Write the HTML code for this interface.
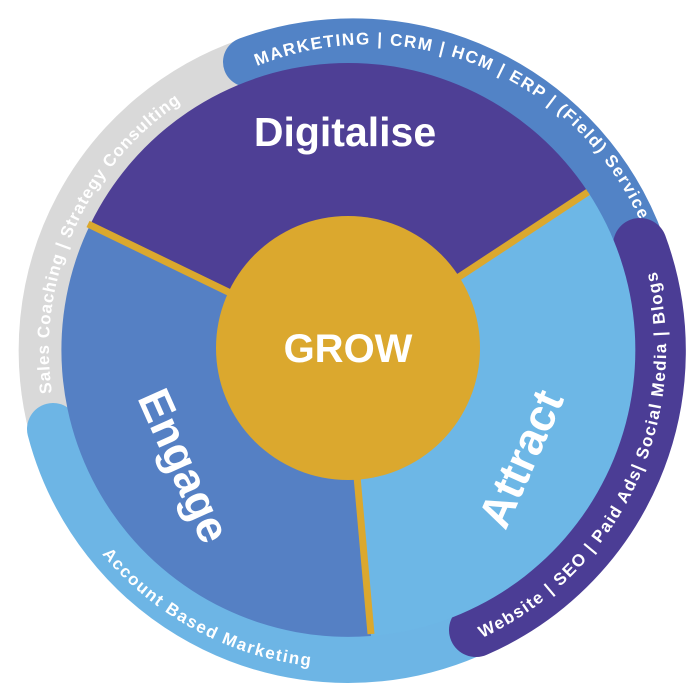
<!DOCTYPE html>
<html><head><meta charset="utf-8"><style>
html,body{margin:0;padding:0;background:#fff;width:697px;height:697px;overflow:hidden}
svg{display:block}
text{font-family:"Liberation Sans",sans-serif;font-weight:bold;fill:#fff}
</style></head><body>
<svg width="697" height="697" viewBox="0 0 697 697" xmlns="http://www.w3.org/2000/svg">
<defs>
<path id="pg" d="M 52 393 A 298 298 0 0 1 251 68"/>
<path id="pb" d="M 257 66 A 298 298 0 0 1 652 252"/>
<path id="pp" d="M 482 638 A 318 318 0 0 0 647 241"/>
<path id="pl" d="M 102 554 A 318 318 0 0 0 345 668"/>
</defs>
<path d="M 53 429 A 305 305 0 0 1 248 62" fill="none" stroke="#d9d9d9" stroke-width="48" stroke-linecap="round"/>
<path d="M 53 429 A 305 305 0 0 0 469 632" fill="none" stroke="#6db5e5" stroke-width="52" stroke-linecap="round"/>
<path d="M 248 62 A 305 305 0 0 1 640 245" fill="none" stroke="#5283c6" stroke-width="50" stroke-linecap="round"/>
<path d="M 640 245 A 305 305 0 0 1 476 630" fill="none" stroke="#4b3d95" stroke-width="54" stroke-linecap="round"/>
<circle cx="348" cy="350" r="284" fill="#fff"/>
<path d="M348 350 L 90 225 A 287 287 0 0 1 588 192 Z" fill="#4e3f95"/>
<path d="M348 350 L 588 192 A 287 287 0 0 1 371 636 Z" fill="#6db7e6"/>
<path d="M348 350 L 371 636 A 287 287 0 0 1 90 225 Z" fill="#5580c4"/>
<line x1="348" y1="350" x2="88" y2="224" stroke="#dba82e" stroke-width="7"/>
<line x1="348" y1="350" x2="588" y2="192" stroke="#dba82e" stroke-width="7"/>
<line x1="352" y1="420" x2="371" y2="634" stroke="#dba82e" stroke-width="7"/>
<circle cx="348" cy="348" r="132" fill="#dba82e"/>
<text x="348" y="362" font-size="40" text-anchor="middle">GROW</text>
<text x="345" y="146" font-size="41" text-anchor="middle">Digitalise</text>
<text transform="translate(170,472) rotate(66)" font-size="45" text-anchor="middle">Engage</text>
<text transform="translate(535,465) rotate(-66)" font-size="45" text-anchor="middle">Attract</text>
<text font-size="17"><textPath href="#pg" textLength="335" lengthAdjust="spacing">Sales Coaching | Strategy Consulting</textPath></text>
<text font-size="17"><textPath href="#pb" textLength="455" lengthAdjust="spacing">MARKETING | CRM | HCM | ERP | (Field) Service</textPath></text>
<text font-size="17"><textPath href="#pp" textLength="440" lengthAdjust="spacing">Website | SEO | Paid Ads| Social Media | Blogs</textPath></text>
<text font-size="17"><textPath href="#pl" textLength="242" lengthAdjust="spacing">Account Based Marketing</textPath></text>
</svg>
</body></html>
